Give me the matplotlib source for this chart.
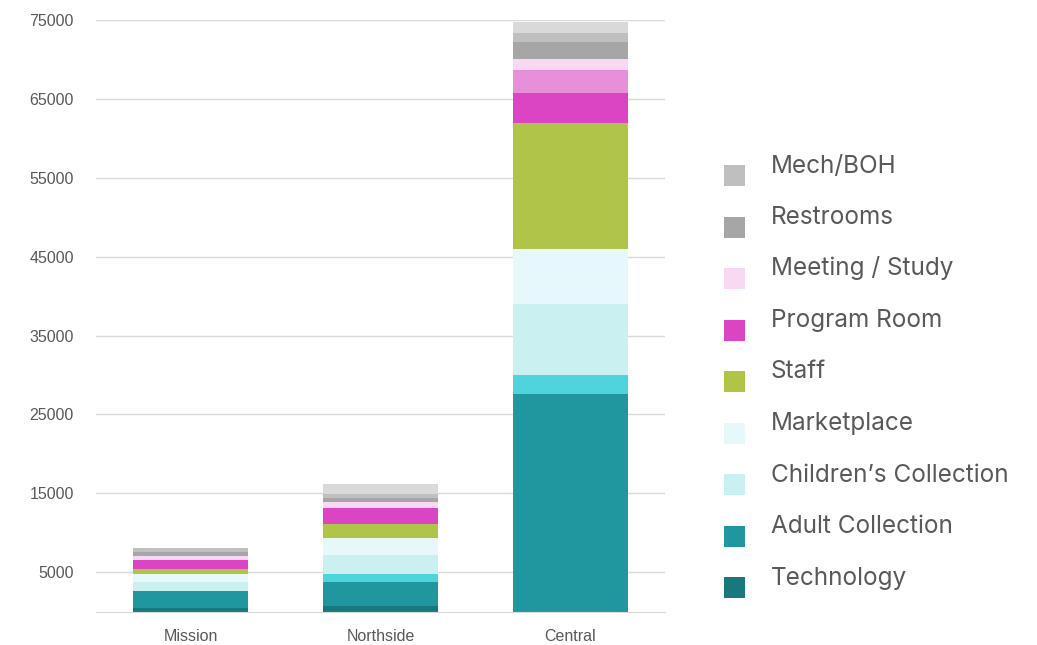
import matplotlib.pyplot as plt
import numpy as np
from matplotlib.patches import Rectangle

plt.rcParams["font.family"] = ["Liberation Sans", "DejaVu Sans"]

categories = ["Mission", "Northside", "Central"]

# stacked from the bottom up
technology = [400, 750, 0]
adult_collection = [2150, 3050, 27600]
other_cyan = [0, 900, 2400]
childrens_collection = [1150, 2500, 9000]
marketplace = [1000, 2150, 7000]
staff = [750, 1750, 16000]
program_room = [1150, 2000, 3700]
other_pink = [0, 0, 2900]
meeting_study = [500, 750, 1400]
restrooms = [400, 550, 2150]
mech_boh = [500, 500, 1250]
other_grey = [0, 1250, 1400]

y_ticks = [-5000, 5000, 15000, 25000, 35000, 45000, 55000, 65000, 75000]

series = [
    ("Technology", technology, "#19787C", True),
    ("Adult Collection", adult_collection, "#20979E", True),
    ("", other_cyan, "#4FD3DC", False),
    ("Children\u2019s Collection", childrens_collection, "#CAF0F2", True),
    ("Marketplace", marketplace, "#E6F8FA", True),
    ("Staff", staff, "#B0C548", True),
    ("Program Room", program_room, "#DB45C3", True),
    ("", other_pink, "#E88FD9", False),
    ("Meeting / Study", meeting_study, "#F9D9F1", True),
    ("Restrooms", restrooms, "#A6A6A6", True),
    ("Mech/BOH", mech_boh, "#BFBFBF", True),
    ("", other_grey, "#D9D9D9", False),
]

W, H = 1037, 645
fig = plt.figure(figsize=(W / 100, H / 100), dpi=100)
# axes spans -5000 (below the picture edge) to 75000
ax = fig.add_axes([96 / W, (H - 651) / H, (665 - 96) / W, (651 - 20) / H])

x = np.arange(len(categories))
bottom = np.zeros(len(categories))
for name, vals, color, _ in series:
    ax.bar(x, vals, 0.605, bottom=bottom, color=color, zorder=2)
    bottom += np.array(vals)

ax.set_xlim(-0.5, 2.5)
ax.set_ylim(-5000, 75000)
ax.set_yticks(y_ticks)
ax.set_yticklabels([str(t) for t in y_ticks])
ax.set_xticks(x)
ax.set_xticklabels(categories)
ax.grid(axis="y", color="#D9D9D9", lw=1, zorder=0)
ax.tick_params(axis="both", length=0, labelsize=11.5, labelcolor="#595959")
ax.tick_params(axis="y", pad=16)
ax.tick_params(axis="x", pad=12.5)
for s in ["top", "right", "left"]:
    ax.spines[s].set_visible(False)
ax.spines["bottom"].set_position(("data", 0))
ax.spines["bottom"].set_color("#D9D9D9")
ax.spines["bottom"].set_zorder(3)

# legend drawn by hand, top to bottom
legend_items = [(n, c) for n, v, c, show in series if show][::-1]
for i, (name, color) in enumerate(legend_items):
    cy = 175.5 + i * 51.5
    fig.add_artist(Rectangle((724 / W, 1 - (cy + 10.5) / H), 21 / W, 21 / H,
                             transform=fig.transFigure, color=color, lw=0))
    fig.text(771 / W, 1 - (cy - 3) / H, name, fontsize=17.5, color="#595959",
             family="Inter", va="baseline", ha="left")

fig.savefig("out.png", dpi=100)
